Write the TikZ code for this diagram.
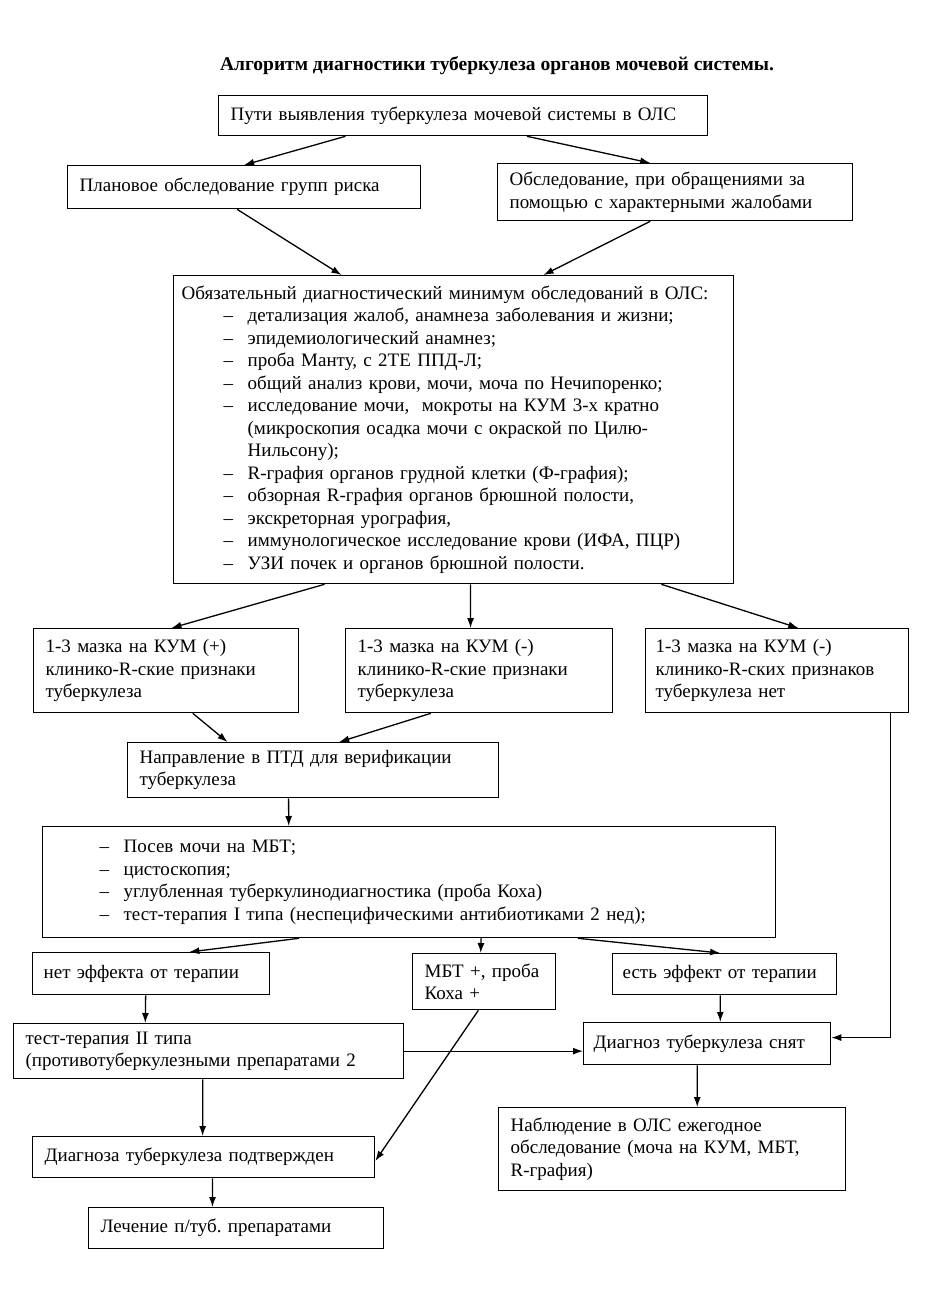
\documentclass[tikz,border=0pt]{standalone}
\usepackage{fontspec}
\setmainfont{Liberation Serif}
\frenchspacing
\usetikzlibrary{calc}
\usetikzlibrary{arrows.meta}

\newcommand{\dashitem}[1][42pt]{\hspace*{#1}\makebox[24pt][l]{–}}

\begin{document}
\begin{tikzpicture}[x=1pt, y=-1pt,
    box/.style={draw, line width=1.3pt, anchor=north west, align=left,
        inner xsep=12pt, inner ysep=0pt, font=\fontsize{19}{22.5}\selectfont},
    arr/.style={line width=1.3pt, -{Latex[length=10pt, width=7pt]}}]

    \useasboundingbox (0,0) rectangle (937,1313);

    \node[font=\bfseries\fontsize{19.5}{22.5}\selectfont] (title) at (497,66)
        {Алгоритм диагностики туберкулеза органов мочевой системы.};

    % upper part
    \node[box, text width=465pt, minimum height=40pt] (ways) at (218,95)
        {Пути выявления туберкулеза мочевой системы в ОЛС};
    \node[box, text width=329pt, minimum height=43pt] (plan) at (67,165)
        {Плановое обследование групп риска};
    \node[box, text width=331pt, minimum height=57pt] (appeal) at (497,163)
        {Обследование, при обращениями за\\помощью с характерными жалобами};
    \node[box, text width=544pt, minimum height=308pt, inner xsep=8pt] (minimum) at (173,275)
        {Обязательный диагностический минимум обследований в ОЛС:\\
        \dashitem детализация жалоб, анамнеза заболевания и жизни;\\
        \dashitem эпидемиологический анамнез;\\
        \dashitem проба Манту, с 2ТЕ ППД-Л;\\
        \dashitem общий анализ крови, мочи, моча по Нечипоренко;\\
        \dashitem исследование мочи,\ \ мокроты на КУМ 3-х кратно\\
        \hspace*{66pt}(микроскопия осадка мочи с окраской по Цилю-\\
        \hspace*{66pt}Нильсону);\\
        \dashitem R-графия органов грудной клетки (Ф-графия);\\
        \dashitem обзорная R-графия органов брюшной полости,\\
        \dashitem экскреторная урография,\\
        \dashitem иммунологическое исследование крови (ИФА, ПЦР)\\
        \dashitem УЗИ почек и органов брюшной полости.};

    % smear results
    \node[box, text width=241pt, minimum height=84pt] (kumplus) at (33,628)
        {1-3 мазка на КУМ (+)\\клинико-R-ские признаки\\туберкулеза};
    \node[box, text width=243pt, minimum height=84pt] (kumminus) at (345,628)
        {1-3 мазка на КУМ (-)\\клинико-R-ские признаки\\туберкулеза};
    \node[box, text width=243pt, minimum height=84pt, inner xsep=10pt] (kumneg) at (645,628)
        {1-3 мазка на КУМ (-)\\клинико-R-ских признаков\\туберкулеза нет};

    \node[box, text width=347pt, minimum height=55pt] (ptd) at (127,742)
        {Направление в ПТД для верификации\\туберкулеза};
    \node[box, text width=709pt, minimum height=111pt] (ptdlist) at (42,826)
        {\dashitem[45pt]Посев мочи на МБТ;\\
        \dashitem[45pt]цистоскопия;\\
        \dashitem[45pt]углубленная туберкулинодиагностика (проба Коха)\\
        \dashitem[45pt]тест-терапия I типа (неспецифическими антибиотиками 2 нед);};

    % lower part
    \node[box, text width=215pt, minimum height=42pt, inner xsep=11pt] (noeff) at (32,952)
        {нет эффекта от терапии};
    \node[box, text width=119pt, minimum height=56pt] (mbt) at (412,953)
        {МБТ +, проба\\Коха +};
    \node[box, text width=204pt, minimum height=41pt, inner xsep=10pt] (eff) at (612,953)
        {есть эффект от терапии};
    \node[box, text width=366pt, minimum height=55pt] (test2) at (13,1023)
        {тест-терапия II типа\\(противотуберкулезными препаратами 2};
    \node[box, text width=227pt, minimum height=42pt, inner xsep=10pt] (removed) at (583,1022)
        {Диагноз туберкулеза снят};
    \node[box, text width=318pt, minimum height=41pt] (confirmed) at (32,1136)
        {Диагноза туберкулеза подтвержден};
    \node[box, text width=323pt, minimum height=83pt] (observe) at (498,1107)
        {Наблюдение в ОЛС ежегодное\\обследование (моча на КУМ, МБТ,\\R-графия)};
    \node[box, text width=271pt, minimum height=41pt] (treat) at (88,1207)
        {Лечение п/туб. препаратами};

    % connectors
    \draw[arr] ($(ways.south west)!.26!(ways.south east)$) -- (plan.north);
    \draw[arr] ($(ways.south west)!.63!(ways.south east)$) -- ($(appeal.north west)!.43!(appeal.north east)$);
    \draw[arr] ($(plan.south west)!.48!(plan.south east)$) -- ($(minimum.north west)!.30!(minimum.north east)$);
    \draw[arr] ($(appeal.south west)!.43!(appeal.south east)$) -- ($(minimum.north west)!.66!(minimum.north east)$);
    \draw[arr] ($(minimum.south west)!.27!(minimum.south east)$) -- ($(kumplus.north west)!.52!(kumplus.north east)$);
    \draw[arr] ($(minimum.south west)!.53!(minimum.south east)$) -- ($(kumminus.north west)!.468!(kumminus.north east)$);
    \draw[arr] ($(minimum.south west)!.87!(minimum.south east)$) -- ($(kumneg.north west)!.58!(kumneg.north east)$);
    \draw[arr] ($(kumplus.south west)!.60!(kumplus.south east)$) -- ($(ptd.north west)!.27!(ptd.north east)$);
    \draw[arr] ($(kumminus.south west)!.32!(kumminus.south east)$) -- ($(ptd.north west)!.57!(ptd.north east)$);
    \draw[arr] ($(ptd.south west)!.434!(ptd.south east)$) -- ($(ptdlist.north west)!.336!(ptdlist.north east)$);
    \draw[arr] ($(ptdlist.south west)!.35!(ptdlist.south east)$) -- ($(noeff.north west)!.66!(noeff.north east)$);
    \draw[arr] ($(ptdlist.south west)!.598!(ptdlist.south east)$) -- ($(mbt.north west)!.476!(mbt.north east)$);
    \draw[arr] ($(ptdlist.south west)!.73!(ptdlist.south east)$) -- ($(eff.north west)!.48!(eff.north east)$);
    \draw[arr] ($(noeff.south west)!.477!(noeff.south east)$) -- ($(test2.north west)!.338!(test2.north east)$);
    \draw[arr] ($(mbt.south west)!.46!(mbt.south east)$) -- ($(confirmed.north east)!.59!(confirmed.south east)$);
    \draw[arr] ($(eff.south west)!.48!(eff.south east)$) -- ($(removed.north west)!.553!(removed.north east)$);
    \draw[arr] (test2.east) -- (test2.east -| removed.west);
    \draw[arr] ($(kumneg.south west)!.93!(kumneg.south east)$) |- ($(removed.north east)!.36!(removed.south east)$);
    \draw[arr] ($(test2.south west)!.485!(test2.south east)$) -- ($(confirmed.north west)!.497!(confirmed.north east)$);
    \draw[arr] ($(removed.south west)!.46!(removed.south east)$) -- ($(observe.north west)!.572!(observe.north east)$);
    \draw[arr] ($(confirmed.south west)!.526!(confirmed.south east)$) -- ($(treat.north west)!.42!(treat.north east)$);

\end{tikzpicture}
\end{document}
